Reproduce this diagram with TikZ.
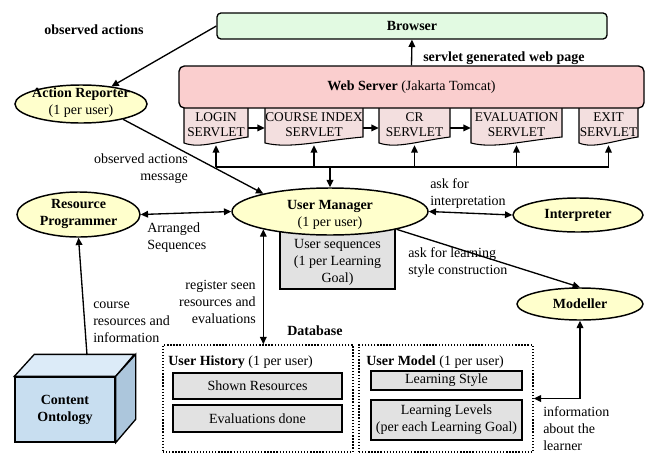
\documentclass[tikz,border=0pt]{standalone}
\usepackage{fontspec}
\setmainfont{Liberation Serif}
\usetikzlibrary{arrows.meta,shapes.geometric}
\definecolor{yel}{RGB}{255,255,204}
\definecolor{brg}{RGB}{226,250,226}
\definecolor{wsp}{RGB}{250,206,206}
\definecolor{svp}{RGB}{243,223,223}
\definecolor{gry}{RGB}{226,226,226}
\definecolor{cof}{RGB}{200,222,240}
\definecolor{cot}{RGB}{220,235,248}
\definecolor{cos}{RGB}{172,198,220}
\begin{document}
\begin{tikzpicture}[x=0.75pt,y=-0.75pt,
  every node/.style={font=\fontsize{10.5}{12.75}\selectfont, inner sep=0pt},
  ell/.style={ellipse, draw, fill=yel, line width=1.1pt, inner sep=0pt},
  arr/.style={line width=1pt, -{Triangle[length=5.5pt,width=5pt]}},
  dbl/.style={line width=1pt, {Triangle[length=5.5pt,width=5pt]}-{Triangle[length=5.5pt,width=5pt]}},
  box/.style={rectangle, draw, fill=gry, line width=0.9pt, inner sep=0pt, align=center, preaction={fill=black, transform canvas={xshift=0.8pt,yshift=-0.8pt}}},
  dbox/.style={rectangle, draw, line width=1.1pt, dash pattern=on 1pt off 1.3pt, inner sep=0pt},
  svt/.style={rectangle, align=center, minimum height=30.75pt, font=\fontsize{10}{11.5}\selectfont}]
\useasboundingbox (0,0) rectangle (647,454);

% Browser
\node[rectangle, draw, fill=brg, rounded corners=3pt, line width=1pt, minimum width=292.5pt, minimum height=19.5pt] (browser) at (412,26) {\textbf{Browser}};

% servlet shapes
\foreach \a/\b in {184/248, 265/363, 379/450, 471/562, 579/638}
  \draw[fill=svp, line width=0.8pt] (\a,100) -- (\a,143) .. controls ({\a+0.25*(\b-\a)},149) and ({\a+0.55*(\b-\a)},141) .. (\b,137) -- (\b,100);

% Web server
\node[rectangle, draw, fill=wsp, rounded corners=4pt, line width=1pt, minimum width=348.75pt, minimum height=31.5pt] (ws) at (411.5,87) {\textbf{Web Server} (Jakarta Tomcat)};

\node[svt, minimum width=48pt] (lg) at (216,124.5) {LOGIN\\SERVLET};
\node[svt, minimum width=73.5pt] (ci) at (314,124.5) {COURSE INDEX\\SERVLET};
\node[svt, minimum width=53.25pt] (cr) at (414.5,124.5) {CR\\SERVLET};
\node[svt, minimum width=68.25pt] (ev) at (516.5,124.5) {EVALUATION\\SERVLET};
\node[svt, minimum width=44.25pt] (ex) at (608.5,124.5) {EXIT\\SERVLET};

% Ellipses and boxes
\node[ell, minimum width=99pt, minimum height=28.5pt] (ar) at (81,104) {};
\node[align=center] (art) at (81,102.5) {\textbf{Action Reporter}\\(1 per user)};
\node[ell, minimum width=92.25pt, minimum height=33.75pt] (rp) at (78.5,214.5) {};
\node[align=center] (rpt) at (78.5,214) {\textbf{Resource}\\\textbf{Programmer}};
\node[box, minimum width=86.25pt, minimum height=45.75pt] (us) at (337.5,258.5) {};
\node[align=center] (ust) at (337.5,262) {User sequences\\(1 per Learning\\Goal)};
\node[ell, minimum width=147pt, minimum height=35.25pt] (um) at (330,211.5) {};
\node[align=center] (umt) at (330,215) {\textbf{User Manager}\\(1 per user)};
\node[ell, minimum width=97.5pt, minimum height=25.5pt] (ip) at (578,215) {};
\node (ipt) at (578,215) {\textbf{Interpreter}};
\node[ell, minimum width=94.5pt, minimum height=24pt] (md) at (580,304) {};
\node (mdt) at (580,304) {\textbf{Modeller}};

% Content ontology
\node[rectangle, draw, fill=cof, line width=1pt, align=center, minimum width=75pt, minimum height=48.75pt] (co) at (65,409.5) {\textbf{Content}\\\textbf{Ontology}};
\draw[fill=cot, line width=1pt] (co.north west) -- ++(20,-22) -- ++(100,0) -- (co.north east) -- cycle;
\draw[fill=cos, line width=1pt] (co.north east) -- ++(20,-22) -- ++(0,65) -- (co.south east) -- cycle;
\coordinate (cotop) at (87,355);

% Database
\node (db) at (315,331) {\textbf{Database}};
\node[dbox, minimum width=142.5pt, minimum height=80.25pt] (uh) at (258,398.5) {};
\node[dbox, minimum width=130.5pt, minimum height=80.25pt] (umod) at (446,398.5) {};
\node[anchor=west] (uhl) at (168,362) {\textbf{User History} (1 per user)};
\node[box, minimum width=126.75pt, minimum height=19.5pt] (sr) at (257.5,386) {Shown Resources};
\node[box, minimum width=126.75pt, minimum height=20.25pt] (ed) at (257.5,418.5) {Evaluations done};
\node[anchor=west] (uml) at (366,362) {\textbf{User Model} (1 per user)};
\node[box, minimum width=113.25pt, minimum height=14.25pt] (ls) at (446.5,380.5) {Learning Style};
\node[box, minimum width=113.25pt, minimum height=30pt] (ll) at (446.5,420) {Learning Levels\\(per each Learning Goal)};

% Connectors
\draw[arr] (ws.north) -- (browser.south);
\draw[arr] (browser.west) -- (ar.30);
\draw[arr] ([yshift=-2.6pt]lg.east) -- ([yshift=-2.6pt]ci.west);
\draw[arr] ([yshift=-2.6pt]ci.east) -- ([yshift=-2.6pt]cr.west);
\draw[arr] ([yshift=-2.6pt]cr.east) -- ([yshift=-2.6pt]ev.west);
\coordinate (bus) at (331,167);
\draw[line width=1pt] (lg.south |- bus) -- (ex.south |- bus);
\foreach \n in {lg,ci,cr,ev,ex} \draw[arr] (\n.south |- bus) -- (\n.south);
\draw[arr] (um.north |- bus) -- (um.north);
\draw[arr] (ar.-20) -- (um.165);
\draw[dbl] (rp.east) -- (um.west);
\draw[dbl] (um.east) -- (ip.west);
\draw[arr] (um.-15) -- (md.north);
\draw[dbl] (umod.east) -| (md.south);
\draw[dbl] (um.195) -- (um.195 |- uh.north);
\draw[arr] (cotop) -- (rp.south);

% Labels
\node (oa) at (94,30) {\textbf{observed actions}};
\node[anchor=west] (sg) at (423,58) {\textbf{servlet generated web page}};
\node[anchor=east, align=right] (oam) at (188,168.5) {observed actions\\message};
\node[anchor=west, align=left] (as) at (147,238) {Arranged\\Sequences};
\node[anchor=west, align=left] (afi) at (430,194) {ask for\\interpretation};
\node[anchor=west, align=left] (afl) at (408,262.5) {ask for learning\\style construction};
\node[anchor=east, align=right] (rs) at (256,302) {register seen\\resources and\\evaluations};
\node[anchor=west, align=left] (crs) at (93,322) {course\\resources and\\information};
\node[anchor=west, align=left] (inf) at (543,429) {information\\about the\\learner};
\end{tikzpicture}
\end{document}
